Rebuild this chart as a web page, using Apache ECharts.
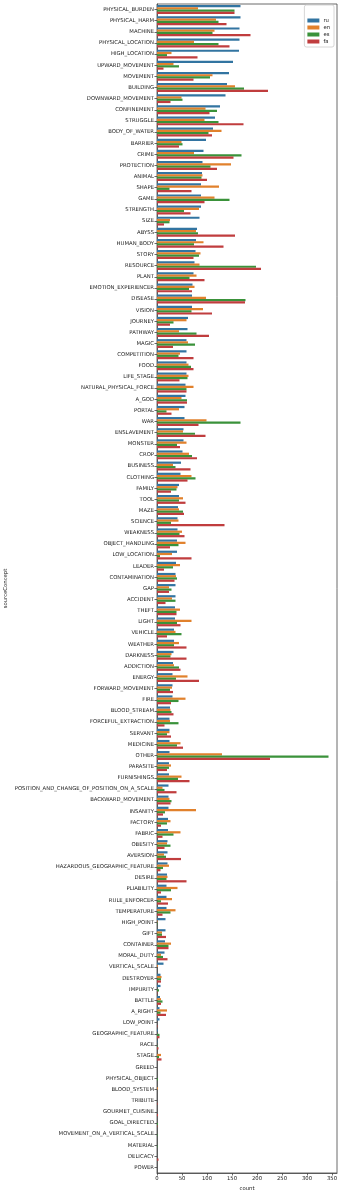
<!DOCTYPE html>
<html>
<head>
<meta charset="utf-8">
<script src="https://cdn.jsdelivr.net/npm/echarts@6/dist/echarts.min.js"></script>
<style>
  html, body { margin: 0; padding: 0; background: #fff; }
  #chart { width: 341px; height: 1194px; }
</style>
</head>
<body>
<div id="chart"></div>
<script>
// categories, top to bottom (sorted by ru count)
const concepts = [
  "PHYSICAL_BURDEN", "PHYSICAL_HARM", "MACHINE", "PHYSICAL_LOCATION", "HIGH_LOCATION",
  "UPWARD_MOVEMENT", "MOVEMENT", "BUILDING", "DOWNWARD_MOVEMENT",
  "CONFINEMENT", "STRUGGLE", "BODY_OF_WATER", "BARRIER", "CRIME", "PROTECTION",
  "ANIMAL", "SHAPE", "GAME",
  "STRENGTH", "SIZE", "ABYSS", "HUMAN_BODY", "STORY", "RESOURCE", "PLANT",
  "EMOTION_EXPERIENCER", "DISEASE",
  "VISION", "JOURNEY", "PATHWAY", "MAGIC", "COMPETITION", "FOOD", "LIFE_STAGE",
  "NATURAL_PHYSICAL_FORCE", "A_GOD",
  "PORTAL", "WAR", "ENSLAVEMENT", "MONSTER", "CROP", "BUSINESS", "CLOTHING",
  "FAMILY", "TOOL",
  "MAZE", "SCIENCE", "WEAKNESS", "OBJECT_HANDLING", "LOW_LOCATION", "LEADER",
  "CONTAMINATION", "GAP", "ACCIDENT",
  "THEFT", "LIGHT", "VEHICLE", "WEATHER", "DARKNESS", "ADDICTION", "ENERGY",
  "FORWARD_MOVEMENT", "FIRE",
  "BLOOD_STREAM", "FORCEFUL_EXTRACTION", "SERVANT", "MEDICINE", "OTHER", "PARASITE",
  "FURNISHINGS", "POSITION_AND_CHANGE_OF_POSITION_ON_A_SCALE", "BACKWARD_MOVEMENT",
  "INSANITY", "FACTORY", "FABRIC", "OBESITY", "AVERSION", "HAZARDOUS_GEOGRAPHIC_FEATURE",
  "DESIRE", "PLIABILITY", "RULE_ENFORCER",
  "TEMPERATURE", "HIGH_POINT", "GIFT", "CONTAINER", "MORAL_DUTY", "VERTICAL_SCALE",
  "DESTROYER", "IMPURITY", "BATTLE",
  "A_RIGHT", "LOW_POINT", "GEOGRAPHIC_FEATURE", "RACE", "STAGE", "GREED",
  "PHYSICAL_OBJECT", "BLOOD_SYSTEM", "TRIBUTE",
  "GOURMET_CUISINE", "GOAL_DIRECTED", "MOVEMENT_ON_A_VERTICAL_SCALE", "MATERIAL",
  "DELICACY", "POWER"
];

const ru = [
  167, 167, 165, 165, 164, 152, 144, 140, 137,
  126, 116, 112, 98, 93, 91, 90, 88, 88,
  88, 85, 80, 78, 77, 75, 73, 71, 70,
  70, 62, 61, 59, 59, 59, 59, 57, 57,
  55, 55, 53, 53, 51, 48, 47, 44, 44,
  42, 41, 41, 40, 40, 38, 37, 37, 37,
  36, 36, 34, 34, 33, 32, 31, 31, 31,
  26, 25, 25, 25, 25, 24, 24, 23, 23,
  23, 22, 22, 21, 21, 21, 20, 19, 19,
  19, 17, 17, 16, 15, 13, 7, 7, 6,
  5, 5, 2, 1, 0, 0, 0, 0, 0,
  0, 0, 0, 0, 0, 0
];
const en = [
  82, 118, 115, 74, 29, 33, 111, 156, 49,
  97, 95, 129, 49, 74, 148, 91, 124, 115,
  84, 26, 78, 93, 87, 85, 79, 75, 98,
  92, 59, 44, 62, 46, 63, 63, 73, 49,
  44, 99, 52, 59, 64, 32, 69, 41, 52,
  44, 43, 50, 57, 30, 46, 38, 24, 30,
  46, 69, 37, 44, 29, 34, 61, 30, 57,
  27, 26, 25, 47, 130, 28, 49, 11, 25,
  78, 27, 47, 20, 14, 24, 21, 41, 30,
  37, 1, 10, 28, 8, 2, 9, 0, 8,
  20, 0, 0, 0, 8, 0, 0, 2, 0,
  0, 0, 0, 0, 0, 0
];
const es = [
  155, 123, 111, 123, 20, 44, 106, 174, 51,
  120, 123, 103, 51, 169, 107, 89, 25, 145,
  54, 25, 82, 74, 84, 198, 65, 64, 177,
  69, 33, 79, 76, 43, 68, 61, 59, 60,
  19, 167, 76, 40, 70, 37, 77, 39, 44,
  52, 28, 45, 43, 6, 32, 40, 29, 37,
  39, 40, 49, 34, 27, 44, 38, 26, 43,
  29, 43, 20, 40, 343, 24, 42, 15, 29,
  16, 20, 33, 27, 18, 12, 19, 28, 8,
  27, 1, 10, 23, 12, 0, 8, 4, 11,
  7, 0, 5, 1, 4, 0, 2, 0, 0,
  0, 2, 1, 1, 0, 0
];
const fa = [
  155, 139, 187, 145, 81, 13, 73, 222, 27,
  105, 173, 110, 44, 153, 120, 100, 69, 95,
  67, 14, 156, 133, 73, 208, 95, 70, 176,
  110, 26, 104, 32, 73, 73, 45, 59, 60,
  29, 83, 97, 46, 80, 67, 61, 28, 57,
  54, 135, 55, 26, 69, 14, 35, 24, 17,
  39, 47, 20, 59, 59, 47, 84, 32, 28,
  33, 15, 28, 52, 226, 20, 65, 39, 27,
  12, 8, 11, 15, 48, 7, 59, 8, 22,
  11, 0, 18, 23, 21, 0, 8, 1, 8,
  18, 1, 5, 3, 9, 0, 0, 0, 1,
  2, 1, 0, 0, 3, 0
];

const datasets = ["ru", "en", "es", "fa"];
const countTicks = [0, 50, 100, 150, 200, 250, 300, 350];

const FONT = "DejaVu Sans";
const chart = echarts.init(document.getElementById("chart"), null, { renderer: "canvas" });

const seriesData = { ru, en, es, fa };

chart.setOption({
  animation: false,
  color: ["#3274a1", "#e1812c", "#3a923a", "#c03d3e"],
  textStyle: { fontFamily: FONT },
  grid: {
    left: 157,
    right: 4,
    top: 4,
    bottom: 21,
    containLabel: false,
    outerBoundsMode: "none",
    show: true,
    borderColor: "#444",
    borderWidth: 0.8
  },
  legend: {
    data: datasets,
    orient: "vertical",
    right: 7,
    top: 5,
    padding: [13, 4, 3, 3],
    itemWidth: 12,
    itemHeight: 4,
    itemGap: 2,
    icon: "rect",
    borderColor: "#ccc",
    borderWidth: 0.8,
    borderRadius: 2,
    backgroundColor: "#fff",
    textStyle: { fontSize: 5.3, color: "#222", fontFamily: FONT, padding: [0, 0, 0, -1] }
  },
  graphic: [
    {
      type: "text",
      right: 14,
      top: 8,
      style: { text: "dataset", fontSize: 5.3, fill: "#222", fontFamily: FONT }
    }
  ],
  xAxis: {
    type: "value",
    min: 0,
    max: 360,
    name: "count",
    nameLocation: "middle",
    nameGap: 13,
    nameTextStyle: { fontSize: 5.3, color: "#222" },
    splitLine: { show: false },
    axisLine: { show: true, lineStyle: { color: "#444", width: 0.8 } },
    axisTick: { show: true, length: 2.5, lineStyle: { color: "#444", width: 0.8 }, customValues: countTicks },
    axisLabel: { fontSize: 5.3, color: "#222", margin: 3, customValues: countTicks }
  },
  yAxis: {
    type: "category",
    data: concepts,
    inverse: true,
    name: "sourceConcept",
    nameLocation: "middle",
    nameRotate: 90,
    nameGap: 149,
    nameMoveOverlap: false,
    nameTextStyle: { fontSize: 5.3, color: "#222" },
    axisLine: { show: true, lineStyle: { color: "#444", width: 0.8 } },
    axisTick: { show: true, alignWithLabel: true, length: 2.5, lineStyle: { color: "#444", width: 0.8 } },
    axisLabel: { fontSize: 5.3, color: "#222", margin: 3, interval: 0 }
  },
  series: datasets.map((name) => ({
    name,
    type: "bar",
    data: seriesData[name],
    barGap: "0%",
    barCategoryGap: "20%"
  }))
});
</script>
</body>
</html>
